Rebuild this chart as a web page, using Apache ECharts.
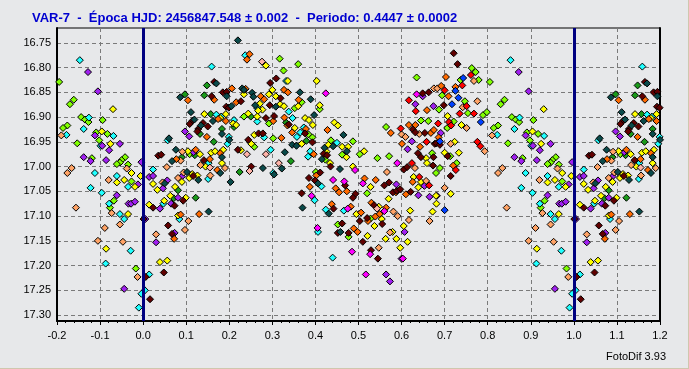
<!DOCTYPE html>
<html><head><meta charset="utf-8">
<script src="https://cdn.jsdelivr.net/npm/echarts@6/dist/echarts.min.js"></script>
<style>
html,body{margin:0;padding:0;background:#e7e8ea;}
#c{width:688px;height:368px;border-right:1px solid #cfc7ae;border-bottom:1px solid #cfc7ae;}
</style></head><body><div id="c"></div>
<script>
const titleText = 'VAR-7  -  Época HJD: 2456847.548 ± 0.002  -  Periodo: 0.4447 ± 0.0002';
const footerText = 'FotoDif 3.93';
const xTicks = [-0.2,-0.1,0.0,0.1,0.2,0.3,0.4,0.5,0.6,0.7,0.8,0.9,1.0,1.1,1.2];
const yTicks = [16.75,16.80,16.85,16.90,16.95,17.00,17.05,17.10,17.15,17.20,17.25,17.30];
const markerLines = [0, 1];

// [phase, magnitude] for one cycle (0..1); repeated outside 0..1 as in the phase plot
const lime = [[0.317,16.782],[0.326,16.806],[0.234,16.899],[0.292,16.913],[0.258,16.960],[0.302,16.943],[0.108,16.975],[0.360,16.793],[0.368,16.870],[0.352,16.882],[0.410,16.884],[0.384,16.935],[0.393,16.941],[0.436,16.947],[0.423,16.986],[0.401,17.011],[0.487,16.949],[0.462,16.976],[0.503,16.975],[0.544,16.983],[0.564,16.920],[0.571,16.979],[0.635,16.820],[0.645,16.907],[0.662,16.908],[0.671,16.973],[0.680,17.013],[0.520,17.054],[0.528,17.105],[0.452,17.117],[0.477,17.142],[0.763,16.801],[0.772,16.809],[0.779,16.825],[0.805,16.829],[0.737,16.825],[0.694,16.856],[0.747,16.868],[0.839,16.865],[0.830,16.874],[0.687,16.885],[0.754,16.892],[0.789,16.896],[0.798,16.890],[0.721,16.909],[0.706,16.922],[0.856,16.900],[0.865,16.905],[0.873,16.910],[0.906,16.906],[0.824,16.917],[0.814,16.922],[0.891,16.931],[0.917,16.934],[0.898,16.947],[0.713,16.979],[0.847,16.953],[0.881,16.983],[0.958,16.981],[0.950,16.987],[0.946,16.992],[0.939,16.995],[0.965,16.996],[0.728,16.993],[0.689,17.003],[0.973,17.030],[0.932,17.069],[0.923,17.083],[0.983,17.206]];
const green = [[0.148,16.836],[0.097,16.854],[0.142,16.856],[0.157,16.894],[0.211,16.920],[0.250,16.899],[0.332,16.911],[0.132,16.934],[0.183,16.924],[0.164,16.950],[0.120,16.977],[0.090,16.981],[0.224,17.011],[0.081,17.048],[0.071,17.064],[0.122,17.063],[0.379,16.948],[0.343,16.989]];
const cyan = [[0.237,16.775],[0.159,16.798],[0.332,16.827],[0.265,16.882],[0.170,16.895],[0.181,16.899],[0.211,16.906],[0.265,16.909],[0.199,16.940],[0.196,16.954],[0.057,16.947],[0.281,16.941],[0.296,16.966],[0.152,16.993],[0.302,17.013],[0.023,17.006],[0.151,17.025],[0.047,17.075],[0.084,17.106],[0.014,17.218],[0.004,17.250],[0.338,16.889],[0.347,16.902],[0.365,16.931],[0.373,16.921],[0.357,16.940],[0.388,16.969],[0.383,16.980],[0.450,16.952],[0.414,17.040],[0.398,17.068],[0.424,17.087],[0.466,17.089],[0.406,17.132],[0.440,17.184],[0.853,16.785],[0.874,16.901],[0.862,16.924],[0.822,16.936],[0.931,16.938],[0.901,16.958],[0.888,17.013],[0.878,17.043],[0.904,17.053],[0.939,17.019],[0.965,17.041],[0.921,17.075],[0.946,17.096],[0.956,17.106],[0.971,17.170],[0.913,17.196],[0.990,17.285],[0.996,17.257]];
const purple = [[0.097,16.929],[0.107,16.939],[0.117,16.971],[0.014,17.021],[0.023,17.019],[0.046,17.044],[0.056,17.028],[0.090,17.020],[0.081,17.063],[0.065,17.075],[0.039,17.085],[0.005,17.106],[0.073,17.134],[0.030,17.153],[0.649,16.858],[0.632,16.874],[0.674,16.878],[0.624,16.949],[0.614,16.965],[0.588,17.036],[0.653,17.039],[0.639,17.058],[0.665,17.061],[0.607,17.132],[0.600,17.186],[0.564,17.218],[0.573,17.232],[0.872,16.809],[0.895,16.848],[0.888,16.937],[0.691,16.932],[0.905,16.958],[0.946,16.954],[0.921,16.967],[0.862,16.981],[0.878,16.989],[0.914,16.987],[0.996,16.991],[0.682,17.059],[0.988,17.036],[0.939,17.058],[0.966,17.075],[0.972,17.075],[0.981,17.071],[0.956,17.247]];
const yellow = [[0.285,16.796],[0.336,16.827],[0.292,16.854],[0.300,16.845],[0.308,16.858],[0.234,16.854],[0.271,16.873],[0.277,16.885],[0.267,16.887],[0.318,16.874],[0.327,16.878],[0.142,16.894],[0.192,16.894],[0.179,16.902],[0.209,16.913],[0.216,16.916],[0.244,16.893],[0.265,16.899],[0.251,16.954],[0.258,16.936],[0.227,16.967],[0.104,16.969],[0.132,16.975],[0.158,16.972],[0.167,16.969],[0.186,16.966],[0.183,16.993],[0.145,17.000],[0.114,17.015],[0.126,17.018],[0.023,17.035],[0.033,17.047],[0.090,17.031],[0.107,17.023],[0.074,17.041],[0.063,17.059],[0.099,17.063],[0.049,17.069],[0.014,17.077],[0.081,17.099],[0.039,17.193],[0.056,17.190],[0.403,16.827],[0.360,16.878],[0.410,16.876],[0.376,16.902],[0.385,16.906],[0.394,16.916],[0.352,16.922],[0.368,16.954],[0.444,16.911],[0.452,16.917],[0.430,16.956],[0.426,16.970],[0.434,16.993],[0.462,16.960],[0.476,16.960],[0.472,16.981],[0.487,17.000],[0.513,16.969],[0.657,16.983],[0.659,16.993],[0.528,17.041],[0.570,17.065],[0.628,17.021],[0.645,17.031],[0.639,17.042],[0.680,17.059],[0.495,17.096],[0.547,17.081],[0.554,17.106],[0.537,17.120],[0.620,17.089],[0.605,17.120],[0.672,17.091],[0.521,17.140],[0.579,17.132],[0.563,17.146],[0.588,17.146],[0.614,17.152],[0.597,17.164],[0.930,16.884],[0.707,16.898],[0.739,16.916],[0.904,16.929],[0.723,16.950],[0.700,16.972],[0.733,16.972],[0.924,16.954],[0.973,17.013],[0.714,17.055],[0.681,17.075],[0.939,17.032],[0.956,17.027],[0.981,17.041],[0.994,17.019],[0.965,17.096],[0.914,17.166]];
const lightOrange = [[0.091,16.970],[0.087,16.988],[0.133,16.997],[0.190,17.003],[0.055,17.001],[0.094,17.012],[0.045,17.032],[0.081,17.023],[0.156,17.018],[0.105,17.110],[0.097,17.128],[0.030,17.137],[0.566,17.011],[0.675,16.842],[0.641,16.934],[0.600,16.935],[0.609,16.940],[0.631,17.003],[0.657,17.029],[0.581,17.091],[0.591,17.100],[0.617,17.108],[0.665,17.110],[0.573,17.133],[0.547,17.164],[0.768,16.827],[0.683,16.842],[0.742,16.880],[0.776,16.868],[0.751,16.922],[0.810,16.937],[0.714,16.954],[0.793,16.969],[0.834,17.003],[0.824,17.013],[0.962,17.004],[0.700,17.043],[0.844,17.083],[0.920,17.027],[0.927,17.094],[0.946,17.117],[0.911,17.124],[0.895,17.150],[0.953,17.152],[0.987,17.223]];
const orange = [[0.247,16.773],[0.241,16.784],[0.206,16.842],[0.238,16.843],[0.273,16.858],[0.327,16.845],[0.104,16.866],[0.165,16.865],[0.216,16.870],[0.281,16.864],[0.174,16.904],[0.192,16.908],[0.302,16.908],[0.328,16.901],[0.335,16.917],[0.148,16.940],[0.321,16.942],[0.122,16.966],[0.077,16.985],[0.155,16.985],[0.179,16.973],[0.172,17.007],[0.087,17.097],[0.130,17.096],[0.072,17.146],[0.336,16.850],[0.361,16.865],[0.346,16.931],[0.378,16.924],[0.396,16.975],[0.428,16.926],[0.575,16.932],[0.659,16.886],[0.617,16.916],[0.632,16.916],[0.668,16.932],[0.675,16.926],[0.601,16.954],[0.643,16.960],[0.402,17.018],[0.387,17.041],[0.447,17.044],[0.455,17.052],[0.473,17.050],[0.514,17.024],[0.540,17.027],[0.482,17.081],[0.587,17.052],[0.610,17.056],[0.626,17.031],[0.438,17.076],[0.506,17.093],[0.530,17.073],[0.564,17.083],[0.549,17.096],[0.539,17.101],[0.522,17.110],[0.489,17.125],[0.498,17.132],[0.703,16.819],[0.725,16.839],[0.692,16.837],[0.709,16.858],[0.686,16.941],[0.720,16.998]];
const red = [[0.617,16.866],[0.633,16.888],[0.598,16.923],[0.658,16.950],[0.624,16.993],[0.641,17.021],[0.664,17.038],[0.761,16.815],[0.741,16.836],[0.700,16.846],[0.751,16.878],[0.735,16.893],[0.768,16.893],[0.710,16.910],[0.715,16.917],[0.685,16.913],[0.776,16.950],[0.783,16.959],[0.726,17.007]];
const maroon = [[0.309,16.822],[0.295,16.831],[0.165,16.829],[0.185,16.850],[0.194,16.849],[0.319,16.862],[0.159,16.858],[0.193,16.879],[0.199,16.881],[0.227,16.868],[0.294,16.876],[0.285,16.902],[0.304,16.898],[0.115,16.907],[0.108,16.914],[0.139,16.912],[0.150,16.919],[0.128,16.924],[0.126,16.929],[0.244,16.946],[0.268,16.933],[0.278,16.933],[0.220,16.966],[0.035,16.978],[0.042,16.976],[0.141,16.987],[0.251,17.000],[0.116,17.019],[0.093,17.069],[0.073,17.079],[0.023,17.083],[0.058,17.119],[0.067,17.136],[0.048,17.214],[0.006,17.223],[0.016,17.268],[0.001,17.106],[0.338,16.915],[0.376,16.933],[0.393,16.951],[0.419,16.974],[0.427,16.977],[0.435,17.000],[0.411,17.012],[0.649,16.852],[0.663,16.850],[0.626,16.925],[0.632,16.931],[0.654,16.932],[0.677,16.954],[0.638,16.973],[0.645,16.981],[0.674,16.981],[0.673,16.998],[0.605,17.006],[0.613,17.001],[0.385,17.023],[0.399,17.028],[0.368,17.054],[0.469,17.038],[0.560,17.038],[0.571,17.032],[0.493,17.055],[0.487,17.063],[0.580,17.052],[0.589,17.049],[0.597,17.046],[0.621,17.051],[0.442,17.085],[0.536,17.078],[0.520,17.104],[0.555,17.116],[0.503,17.110],[0.462,17.115],[0.452,17.134],[0.477,17.134],[0.510,17.152],[0.529,17.169],[0.545,17.186],[0.721,16.771],[0.730,16.793],[0.698,16.876],[0.681,16.953],[0.689,16.956],[0.707,16.979],[0.714,17.019]];
const teal = [[0.220,16.745],[0.170,16.832],[0.230,16.842],[0.234,16.845],[0.253,16.851],[0.256,16.859],[0.086,16.860],[0.194,16.858],[0.205,16.878],[0.260,16.876],[0.308,16.879],[0.111,16.890],[0.162,16.908],[0.119,16.905],[0.134,16.917],[0.183,16.934],[0.200,16.946],[0.060,16.943],[0.329,16.971],[0.076,16.966],[0.067,16.989],[0.183,16.981],[0.179,17.013],[0.278,17.003],[0.322,17.004],[0.102,17.011],[0.050,17.034],[0.128,17.027],[0.203,17.031],[0.304,17.016],[0.152,17.091],[0.364,16.850],[0.389,16.864],[0.397,16.896],[0.346,16.956],[0.356,16.958],[0.465,16.936],[0.421,16.962],[0.441,16.959],[0.415,16.985],[0.473,16.969],[0.457,17.005],[0.406,17.034],[0.370,17.083],[0.431,17.095],[0.458,17.132]];
const pink = [[0.276,16.788],[0.241,16.975],[0.285,16.975],[0.155,17.002],[0.247,17.009],[0.315,16.993],[0.543,17.085]];
const magenta = [[0.424,16.852],[0.492,17.007],[0.635,16.854],[0.590,16.993],[0.441,17.027],[0.467,17.030],[0.510,17.034],[0.475,17.085],[0.391,17.059],[0.560,17.090],[0.405,17.124],[0.527,17.177],[0.485,17.172],[0.603,17.186],[0.517,17.218]];
const blue = [[0.743,16.821],[0.725,16.847],[0.732,16.861],[0.717,16.874],[0.784,16.910],[0.689,16.949],[0.700,17.088]];

const groups = [
  ['lime', lime, '#80ff00'], ['green', green, '#1a9a1a'], ['cyan', cyan, '#20ffff'],
  ['purple', purple, '#a020f0'], ['yellow', yellow, '#ffff00'], ['lightOrange', lightOrange, '#ffa366'],
  ['orange', orange, '#ff6a00'], ['red', red, '#ff0000'], ['maroon', maroon, '#600000'],
  ['teal', teal, '#0a4a4a'], ['pink', pink, '#ffb3a8'], ['magenta', magenta, '#ff00ff'],
  ['blue', blue, '#0040ff']
];

function unfold(pts) {
  const out = [];
  pts.forEach(([p, m]) => {
    out.push([p, m]);
    if (p >= 0.8) out.push([+(p - 1).toFixed(3), m]);
    if (p <= 0.2) out.push([+(p + 1).toFixed(3), m]);
  });
  return out;
}

const series = groups.map(([name, pts, col]) => ({
  name, type: 'scatter', data: unfold(pts), symbol: 'diamond', symbolSize: 7,
  itemStyle: { color: col, borderColor: '#000', borderWidth: 1, opacity: 1 },
  emphasis: { disabled: true }, animation: false
}));
series.push({
  type: 'scatter', data: [], z: 10, silent: true,
  markLine: { symbol: ['none','none'], silent: true, animation: false, label: { show: false },
    lineStyle: { color: '#000080', width: 3, type: 'solid' },
    data: markerLines.map(v => ({ xAxis: v })) }
});

const chart = echarts.init(document.getElementById('c'), null, { renderer: 'canvas' });
const font = 'Arial, "Liberation Sans", sans-serif';
chart.setOption({
  animation: false,
  backgroundColor: '#e7e8ea',
  title: { text: titleText, left: 27, top: 7,
    textStyle: { color: '#0000d0', fontSize: 13, fontWeight: 'bold', fontFamily: font } },
  graphic: [{ type: 'text', right: 22, top: 351,
    style: { text: footerText, fill: '#000', font: '11px ' + font } }],
  grid: { left: 57, right: 28, top: 28, bottom: 47, show: true, borderColor: '#000', borderWidth: 1, backgroundColor: '#e7e8ea' },
  xAxis: {
    type: 'value', min: -0.2, max: 1.2, interval: 0.1,
    axisLine: { show: true, onZero: false, lineStyle: { color: '#000', width: 2 } },
    axisTick: { show: true, length: 4, lineStyle: { color: '#000' } },
    minorTick: { show: true, splitNumber: 5, length: 2, lineStyle: { color: '#000' } },
    axisLabel: { color: '#000', fontSize: 11, fontFamily: font, margin: 9, formatter: v => v.toFixed(1) },
    splitLine: { show: true, lineStyle: { color: '#7a7a7a', type: [4, 3], width: 1 } }
  },
  yAxis: [{
    type: 'value', inverse: true, min: 16.72, max: 17.312,
    axisLine: { show: true, onZero: false, lineStyle: { color: '#000', width: 2 } },
    axisTick: { show: false, customValues: yTicks },
    axisLabel: { color: '#000', fontSize: 11, fontFamily: font, margin: 6, customValues: yTicks, formatter: v => v.toFixed(2) },
    splitLine: { show: true, lineStyle: { color: '#7a7a7a', type: [4, 3], width: 1 } }
  }, {
    type: 'value', inverse: true, min: 16.72, max: 17.312, position: 'right',
    axisLine: { show: true, onZero: false, lineStyle: { color: '#000', width: 2 } },
    axisTick: { show: false }, axisLabel: { show: false }, splitLine: { show: false }
  }],
  series
});
</script></body></html>
